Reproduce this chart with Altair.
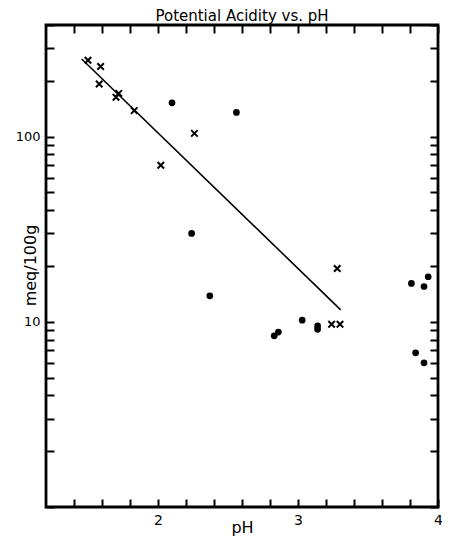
import altair as alt
import pandas as pd

# Data
cross_ph = [1.50, 1.59, 1.58, 1.72, 1.70, 1.83, 2.26, 2.02, 3.28, 3.24, 3.30]
cross_meq = [258, 239, 192, 171, 163, 138, 104, 70, 19.4, 9.7, 9.7]
dot_ph = [2.10, 2.56, 2.24, 2.37, 2.83, 2.86, 3.03, 3.14, 3.14, 3.81, 3.90, 3.93, 3.84, 3.90]
dot_meq = [152, 135, 30, 13.8, 8.4, 8.8, 10.2, 9.5, 9.1, 16.1, 15.5, 17.5, 6.8, 6.0]
fit_ph = [1.455, 3.305]
fit_meq = [262, 11.6]

x_ticks = [1.4, 1.6, 1.8, 2.0, 2.2, 2.4, 2.6, 2.8, 3.0, 3.2, 3.4, 3.6, 3.8, 4.0]
y_ticks = [1, 2, 3, 4, 5, 6, 7, 8, 9, 10, 20, 30, 40, 50, 60, 70, 80, 90, 100, 200, 300, 400]

df_cross = pd.DataFrame({"pH": cross_ph, "meq": cross_meq})
df_dot = pd.DataFrame({"pH": dot_ph, "meq": dot_meq})
df_fit = pd.DataFrame({"pH": fit_ph, "meq": fit_meq})

FONT = "DejaVu Sans"
xs = alt.Scale(domain=[1.2, 4.0], nice=False, zero=False)
ys = alt.Scale(type="log", domain=[1, 400], nice=False)

tick_common = dict(offset=-8, tickSize=8, tickWidth=2, tickColor="black",
                   domain=False, grid=False, labelOverlap=False, labelFlush=False)

bottom_axis = alt.Axis(orient="bottom", values=x_ticks,
                       labelExpr="(datum.value == 2 || datum.value == 3 || datum.value == 4) ? format(datum.value, 'd') : ''",
                       labelPadding=6, labelFont=FONT, labelFontSize=14, labelColor="black",
                       title="pH", titleFont=FONT, titleFontSize=16, titleFontWeight="normal",
                       titleColor="black", titleX=196, titleY=28, titleBaseline="middle",
                       titleAlign="center", **tick_common)
left_axis = alt.Axis(orient="left", values=y_ticks,
                     labelExpr="(datum.value == 10 || datum.value == 100) ? format(datum.value, 'd') : ''",
                     labelPadding=6, labelFont=FONT, labelFontSize=13, labelColor="black",
                     title="meq/100g", titleFont=FONT, titleFontSize=16, titleFontWeight="normal",
                     titleColor="black", titleX=-24, titleY=240, titleAngle=-90,
                     titleBaseline="middle", titleAlign="center", **tick_common)
top_axis = alt.Axis(orient="top", values=x_ticks, labels=False, title=None, **tick_common)
right_axis = alt.Axis(orient="right", values=y_ticks, labels=False, title=None, **tick_common)

cross_path = "M-1,-1L1,1M-1,1L1,-1"

line = alt.Chart(df_fit).mark_line(color="black", strokeWidth=1.6).encode(
    x=alt.X("pH:Q", scale=xs, axis=None),
    y=alt.Y("meq:Q", scale=ys, axis=None),
)
crosses = alt.Chart(df_cross).mark_point(shape=cross_path, filled=False, stroke="black",
                                         strokeWidth=2, size=42, opacity=1).encode(
    x=alt.X("pH:Q", scale=xs, axis=bottom_axis),
    y=alt.Y("meq:Q", scale=ys, axis=left_axis),
)
dots = alt.Chart(df_dot).mark_circle(color="black", size=45, opacity=1).encode(
    x=alt.X("pH:Q", scale=xs, axis=top_axis),
    y=alt.Y("meq:Q", scale=ys, axis=right_axis),
)

chart = alt.layer(line, crosses, dots).resolve_axis(
    x="independent", y="independent"
).properties(
    width=392, height=482,
    title=alt.Title("Potential Acidity vs. pH", font=FONT, fontSize=15, fontWeight="normal",
                    color="black", anchor="middle", offset=-5),
    autosize=alt.AutoSizeParams(type="none"),
    padding={"left": 38, "top": 17, "right": 4, "bottom": 30},
    background="white",
).configure_view(stroke="black", strokeWidth=2.8)

chart.save("out.html", embed_options={"renderer": "svg", "actions": False})
